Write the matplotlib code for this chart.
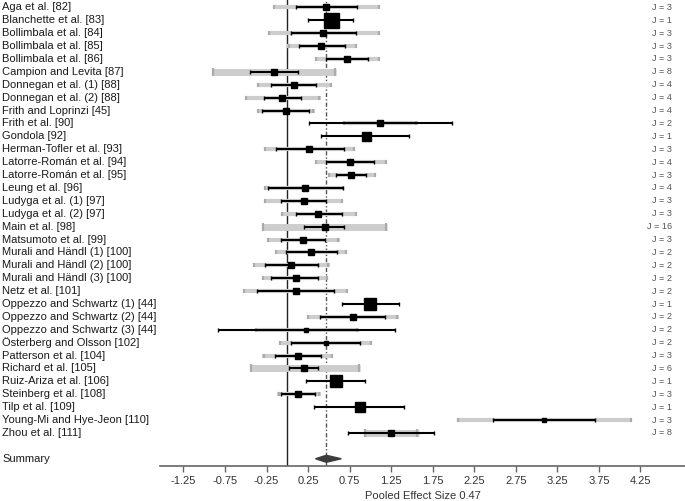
import numpy as np
import matplotlib
matplotlib.use('Agg')
import matplotlib.pyplot as plt
import matplotlib.transforms as mtransforms
from matplotlib.patches import Polygon

plt.rcParams['font.family'] = ['Liberation Sans', 'DejaVu Sans']

studies = ['Aga et al. [82]', 'Blanchette et al. [83]', 'Bollimbala et al. [84]',
           'Bollimbala et al. [85]', 'Bollimbala et al. [86]', 'Campion and Levita [87]',
           'Donnegan et al. (1) [88]', 'Donnegan et al. (2) [88]', 'Frith and Loprinzi [45]',
           'Frith et al. [90]', 'Gondola [92]', 'Herman-Tofler et al. [93]',
           'Latorre-Román et al. [94]', 'Latorre-Román et al. [95]', 'Leung et al. [96]',
           'Ludyga et al. (1) [97]', 'Ludyga et al. (2) [97]', 'Main et al. [98]',
           'Matsumoto et al. [99]', 'Murali and Händl (1) [100]', 'Murali and Händl (2) [100]',
           'Murali and Händl (3) [100]', 'Netz et al. [101]', 'Oppezzo and Schwartz (1) [44]',
           'Oppezzo and Schwartz (2) [44]', 'Oppezzo and Schwartz (3) [44]',
           'Österberg and Olsson [102]', 'Patterson et al. [104]', 'Richard et al. [105]',
           'Ruiz-Ariza et al. [106]', 'Steinberg et al. [108]', 'Tilp et al. [109]',
           'Young-Mi and Hye-Jeon [110]', 'Zhou et al. [111]']

n_effects = [3, 1, 3, 3, 3, 8, 4, 4, 4, 2, 1, 3, 4, 3, 4, 3, 3, 16, 3, 2, 2, 2, 2,
             1, 2, 2, 2, 3, 6, 1, 3, 1, 3, 8]

estimate = [0.47, 0.53, 0.43, 0.41, 0.72, -0.16, 0.08, -0.06, -0.02, 1.12, 0.95, 0.26,
            0.76, 0.77, 0.21, 0.20, 0.37, 0.45, 0.19, 0.29, 0.04, 0.10, 0.11, 1.00,
            0.79, 0.23, 0.46, 0.13, 0.20, 0.59, 0.13, 0.87, 3.09, 1.25]

ci_low = [0.10, 0.25, 0.05, 0.14, 0.47, -0.45, -0.19, -0.28, -0.30, 0.26, 0.41, -0.14,
          0.47, 0.59, -0.23, -0.08, 0.11, 0.20, -0.07, -0.02, -0.27, -0.20, -0.36, 0.66,
          0.39, -0.83, 0.05, -0.15, 0.02, 0.23, -0.07, 0.32, 2.48, 0.73]

ci_high = [0.84, 0.79, 0.83, 0.70, 0.97, 0.13, 0.34, 0.17, 0.26, 1.98, 1.47, 0.68,
           1.04, 0.95, 0.67, 0.47, 0.66, 0.68, 0.45, 0.60, 0.37, 0.37, 0.56, 1.35,
           1.18, 1.30, 0.87, 0.41, 0.37, 0.94, 0.33, 1.41, 3.70, 1.76]

pi_low = [-0.17, np.nan, -0.23, 0.00, 0.33, -0.91, -0.37, -0.51, -0.37, 0.67, np.nan, -0.28,
          0.33, 0.49, -0.28, -0.28, -0.08, -0.31, -0.25, -0.15, -0.41, -0.31, -0.53, np.nan,
          0.24, -0.39, -0.10, -0.30, -0.45, np.nan, -0.12, np.nan, 2.04, 0.92]

pi_high = [1.12, np.nan, 1.12, 0.84, 1.12, 0.59, 0.54, 0.40, 0.33, 1.57, np.nan, 0.82,
           1.20, 1.07, 0.68, 0.67, 0.84, 1.20, 0.63, 0.72, 0.51, 0.49, 0.73, np.nan,
           1.34, 0.86, 1.02, 0.55, 0.88, np.nan, 0.40, np.nan, 4.15, 1.58]

# relative study weight (drives square size)
weight = [5.5, 15, 6, 6, 6, 6, 6, 6, 6, 6, 9, 6, 6.5, 6.5, 6.5, 6, 6, 6, 6, 6, 6, 6,
          5.5, 12.5, 5.5, 5, 5, 6, 6, 11.5, 6, 9.5, 5, 6]

pooled = 0.47
pooled_low = 0.34
pooled_high = 0.65

xticks = np.arange(-1.25, 4.26, 0.5)

W, H = 685, 501
fig = plt.figure(figsize=(W / 100, H / 100), dpi=100)
ax = fig.add_axes([160 / W, (H - 466) / H, (W - 160) / W, 466 / H])

rows = np.arange(len(studies))
summary_row = len(studies) + 1

ax.axvline(0, color='#222222', lw=1, zorder=1)
ax.axvline(pooled, color='#555555', lw=1, ls=(0, (3, 1.5, 1, 1.5)), zorder=1)

for i in rows:
    if not np.isnan(pi_low[i]):
        thick = 5.0 if n_effects[i] >= 6 else 3.0
        ax.hlines(i, pi_low[i], pi_high[i], color='#cdcdcd', lw=thick, zorder=2,
                  capstyle='butt')
        ax.plot([pi_low[i] + 0.015, pi_high[i] - 0.015], [i, i], ls='none', marker='|',
                ms=thick * 1.1, mew=1.6, color='#ababab', zorder=2)
    ax.hlines(i, ci_low[i], ci_high[i], color='black', lw=1.5, zorder=3)
    ax.plot([ci_low[i], ci_high[i]], [i, i], ls='none', marker='|', ms=2.6, mew=1,
            color='black', zorder=3)
    ax.plot(estimate[i], i, marker='s', ms=weight[i] * 0.72, color='black', zorder=4)

diamond = Polygon([[pooled_low, summary_row], [pooled, summary_row - 0.27],
                   [pooled_high, summary_row], [pooled, summary_row + 0.27]],
                  closed=True, color='#3c3c3c', zorder=4)
ax.add_patch(diamond)

ax.set_xlim(-1.532, 4.787)
ax.set_ylim(35.56, -0.57)
ax.set_yticks([])
ax.set_xticks(xticks)
ax.set_xticklabels([f'{t:.2f}' for t in xticks])
for side in ['top', 'right', 'left']:
    ax.spines[side].set_visible(False)
ax.spines['bottom'].set_color('#666666')
ax.spines['bottom'].set_linewidth(1.2)
ax.tick_params(axis='x', direction='out', length=4, width=1, color='#666666',
               labelsize=8, labelcolor='#333333', pad=3)
ax.set_xlabel(f'Pooled Effect Size {pooled}', fontsize=8, color='#333333', labelpad=4)
ax.patch.set_alpha(0)

trans = mtransforms.blended_transform_factory(fig.transFigure, ax.transData)
for i in rows:
    ax.text(2 / W, i, studies[i], transform=trans, ha='left', va='center', fontsize=8,
            color='#1a1a1a', clip_on=False)
    ax.text(672 / W, i, f'J = {n_effects[i]}', transform=trans, ha='right', va='center',
            fontsize=6.6, color='#555555', clip_on=False)
ax.text(2 / W, summary_row, 'Summary', transform=trans, ha='left', va='center',
        fontsize=8, color='#1a1a1a', clip_on=False)

fig.savefig('out.png', dpi=100)
